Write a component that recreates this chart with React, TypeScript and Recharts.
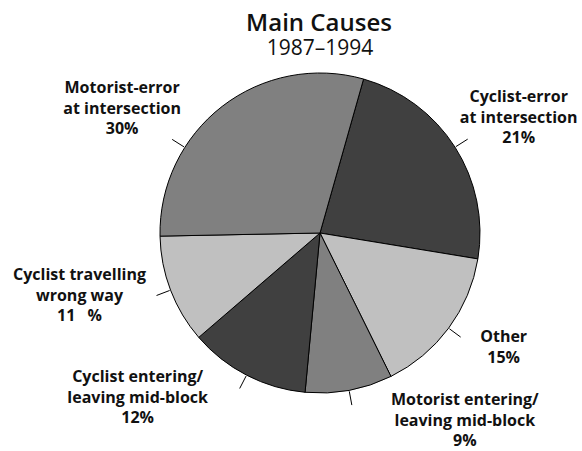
import { PieChart, Pie, Cell } from "recharts";

// slices listed clockwise, starting at the top-right boundary
const CAUSE_LINES = [
  ["Cyclist-error", "at intersection"],
  ["Other"],
  ["Motorist entering/", "leaving mid-block"],
  ["Cyclist entering/", "leaving mid-block"],
  ["Cyclist travelling", "wrong way"],
  ["Motorist-error", "at intersection"],
];
const SHARES = [23.2, 15.1, 8.8, 12.2, 11.0, 29.7];
// printed percentages
const PERCENT_LABELS = ["21%", "15%", "9%", "12%", "11\u2002\u00a0%", "30%"];

const FILLS = ["#404040", "#c0c0c0", "#808080", "#404040", "#c0c0c0", "#808080"];

// label layout: tick rotation shift (deg) and text offset from the tick end
const TICK_SHIFT = [0, 0, 0, 0, 0, 20];
const LABEL_OFFSET: [number, number][] = [
  [51, -37],
  [43, 5],
  [113, 0],
  [-102, -6],
  [-77, -15],
  [-50, -46],
];
const LINE_H = 20.5;
const RAD = Math.PI / 180;
const FONT = "'Open Sans', Lato, sans-serif";

const data = SHARES.map((share, i) => ({ name: CAUSE_LINES[i].join(" "), share }));

function renderLabel(props: any) {
  const { cx, cy, midAngle, outerRadius, index } = props;
  const a = (midAngle + TICK_SHIFT[index]) * RAD;
  const x1 = cx + (outerRadius + 1) * Math.cos(a);
  const y1 = cy - (outerRadius + 1) * Math.sin(a);
  const x2 = cx + (outerRadius + 15) * Math.cos(a);
  const y2 = cy - (outerRadius + 15) * Math.sin(a);
  const [dx, dy] = LABEL_OFFSET[index];
  const tx = x2 + dx;
  const lines = [...CAUSE_LINES[index], PERCENT_LABELS[index]];
  return (
    <g key={`lbl-${index}`}>
      <line x1={x1} y1={y1} x2={x2} y2={y2} stroke="#000" strokeWidth={1} />
      <text
        x={tx}
        y={y2 + dy}
        textAnchor="middle"
        fontFamily={FONT}
        fontWeight={700}
        fontSize={16}
        fill="#111"
      >
        {lines.map((l, i) => (
          <tspan key={i} x={tx} dy={i === 0 ? 0 : LINE_H}>
            {l}
          </tspan>
        ))}
      </text>
    </g>
  );
}

export default function App() {
  return (
    <div
      style={{
        position: "absolute",
        left: 0,
        top: 0,
        width: 582,
        height: 451,
        background: "#fff",
      }}
    >
      <div
        style={{
          position: "absolute",
          left: 0,
          top: 9,
          width: 638,
          textAlign: "center",
          fontFamily: FONT,
          fontWeight: 600,
          fontSize: 24,
          color: "#111",
          lineHeight: "25px",
        }}
      >
        Main Causes
      </div>
      <div
        style={{
          position: "absolute",
          left: 0,
          top: 37,
          width: 640,
          textAlign: "center",
          fontFamily: FONT,
          fontSize: 21,
          color: "#111",
          lineHeight: "21px",
        }}
      >
        1987–1994
      </div>
      <PieChart
        width={582}
        height={451}
        margin={{ top: 0, right: 0, bottom: 0, left: 0 }}
        style={{ position: "absolute", left: 0, top: 0 }}
      >
        <Pie
          data={data}
          dataKey="share"
          nameKey="name"
          cx={320}
          cy={233}
          outerRadius={160}
          startAngle={74.2}
          endAngle={-285.8}
          stroke="#000"
          strokeWidth={1}
          label={renderLabel}
          labelLine={false}
          isAnimationActive={false}
        >
          {data.map((_, i) => (
            <Cell key={`cell-${i}`} fill={FILLS[i]} />
          ))}
        </Pie>
      </PieChart>
    </div>
  );
}
